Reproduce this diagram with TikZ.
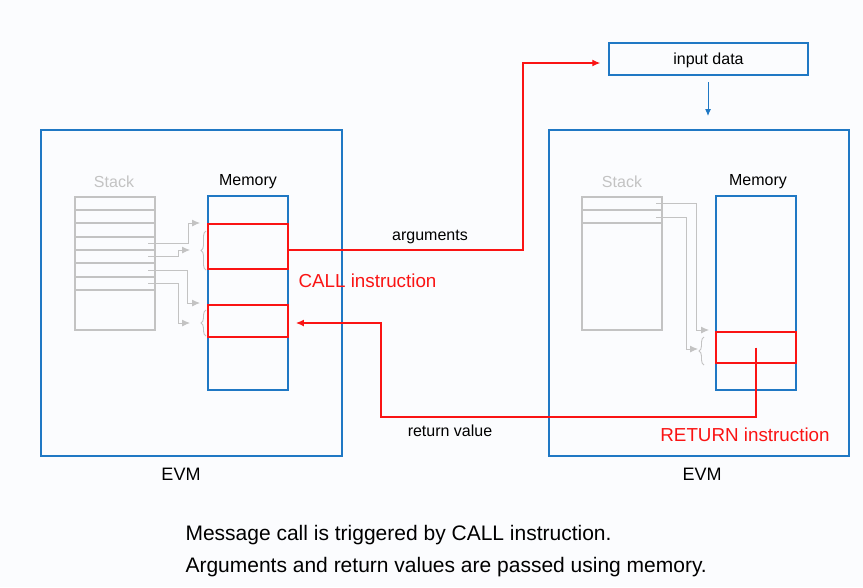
\documentclass[tikz,border=0pt]{standalone}
\usepackage{fontspec}
\setmainfont{Liberation Sans}
\usetikzlibrary{arrows.meta,decorations.pathreplacing,calc}
\definecolor{evmblue}{RGB}{31,120,196}
\definecolor{callred}{RGB}{250,20,20}
\definecolor{ltgray}{RGB}{195,195,195}
\definecolor{bg}{RGB}{251,252,254}
\begin{document}
\begin{tikzpicture}[x=1pt,y=-1pt,
  bluebox/.style={draw=evmblue,line width=1.4pt,inner sep=0pt},
  redbox/.style={draw=callred,line width=1.8pt,inner sep=0pt},
  graybox/.style={draw=ltgray,line width=1.2pt,inner sep=0pt},
  grayarrow/.style={draw=ltgray,line width=0.9pt,-{Latex[length=8pt,width=7pt]}},
  graybrace/.style={draw=ltgray,line width=0.9pt,decorate,decoration={brace,amplitude=5pt}},
  redarrow/.style={draw=callred,line width=1.3pt,-{Latex[length=8pt,width=7pt]}},
  lbl/.style={font=\fontsize{16}{18}\selectfont,text=black},
  redlbl/.style={font=\fontsize{18.8}{21}\selectfont,text=callred},
  graylbl/.style={font=\fontsize{16}{18}\selectfont,text=ltgray},
]
\fill[bg] (0,0) rectangle (863,587);
\useasboundingbox (0,0) rectangle (863,587);

% EVM boxes
\node[bluebox,minimum width=301,minimum height=326] (evmL) at (191.5,293) {};
\node[bluebox,minimum width=300,minimum height=326] (evmR) at (699,293) {};
\node[lbl,font=\fontsize{18}{20}\selectfont] (evmLlbl) at (181,474) {EVM};
\node[lbl,font=\fontsize{18}{20}\selectfont] (evmRlbl) at (702,474) {EVM};

% input data
\node[bluebox,minimum width=199,minimum height=32] (input) at (708.5,59) {};
\node[lbl] (inputlbl) at (708.5,60) {input data};
\coordinate (inbelow) at (708,82);
\draw[draw=evmblue,line width=1pt,-{Latex[length=7pt,width=6pt]}] (inbelow) -- (708,116);

% left stack
\node[graybox,minimum width=80,minimum height=133] (stackL) at (115,263.5) {};
\foreach \yy in {210,223,237,250,263,277,290}
  \draw[ltgray,line width=1.2pt] (75,\yy) -- (155,\yy);
\node[graylbl] (stackLlbl) at (114,182) {Stack};

% left memory
\node[bluebox,minimum width=80,minimum height=194] (memL) at (248,293) {};
\node[lbl] (memLlbl) at (248,182) {Memory};
\node[redbox,minimum width=80,minimum height=45] (callbox) at (248,246.5) {};
\node[redbox,minimum width=80,minimum height=32] (retL) at (248,321) {};

% left gray arrows
\draw[grayarrow] (148,243) -- (188,243) -- (188,223) -- (200,223);
\draw[grayarrow] (148,256) -- (178,256) -- (178,250) -- (190,250);
\draw[grayarrow] (148,270) -- (187,270) -- (187,303) -- (200,303);
\draw[grayarrow] (148,283) -- (178,283) -- (178,323) -- (190,323);
\draw[graybrace] (206,270) -- (206,231);
\draw[graybrace] (206,336) -- (206,310);

% right stack
\node[graybox,minimum width=80,minimum height=133] (stackR) at (622,263.5) {};
\foreach \yy in {210,223}
  \draw[ltgray,line width=1.2pt] (582,\yy) -- (662,\yy);
\node[graylbl] (stackRlbl) at (622,182) {Stack};

% right memory
\node[bluebox,minimum width=80,minimum height=194] (memR) at (756,293) {};
\node[lbl] (memRlbl) at (758,182) {Memory};
\node[redbox,minimum width=80,minimum height=31] (retR) at (756,347.5) {};

% right gray arrows
\draw[grayarrow] (656,203) -- (696,203) -- (696,330) -- (709,330);
\draw[grayarrow] (656,217) -- (686,217) -- (686,349) -- (698,349);
\draw[graybrace] (704,365) -- (704,337);

% red connectors
\draw[redarrow,shorten >=8pt] (callbox.east |- 0,250) -- (523,250) -- (523,63) -- (input.west |- 0,63);
\node[lbl] (arglbl) at (430,237) {arguments};
\node[redlbl,anchor=west] (calllbl) at (295,281) {CALL instruction};

\draw[redarrow,shorten >=7pt] (retR.center) -- (756,417) -- (381,417) -- (381,323) -- (retL.east |- 0,323);
\node[lbl] (retlbl) at (450,431) {return value};
\node[redlbl] (retinstr) at (745,435) {RETURN instruction};

% bottom text
\node[anchor=west,font=\fontsize{21}{24}\selectfont] (note1) at (182,535) {Message call is triggered by CALL instruction.};
\node[anchor=west,font=\fontsize{21}{24}\selectfont] (note2) at (182,567) {Arguments and return values are passed using memory.};
\end{tikzpicture}
\end{document}
